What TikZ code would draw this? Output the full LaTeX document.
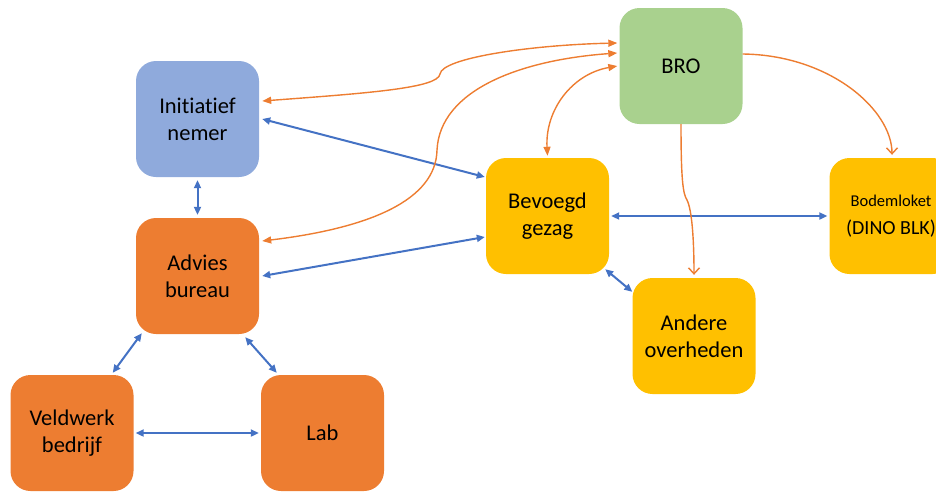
\documentclass[tikz,border=0pt]{standalone}
\usepackage{fontspec}
\setmainfont{Carlito}[Ligatures={NoCommon,NoContextual}]
\usetikzlibrary{arrows.meta,calc}
\definecolor{boxblue}{HTML}{8FAADC}
\definecolor{boxorange}{HTML}{ED7D31}
\definecolor{boxyellow}{HTML}{FFC000}
\definecolor{boxgreen}{HTML}{A9D18E}
\definecolor{lineblue}{HTML}{4472C4}
\definecolor{lineorange}{HTML}{ED7D31}
\begin{document}
\begin{tikzpicture}[x=1pt,y=-1pt,
  box/.style={rectangle,rounded corners=20pt,minimum width=123pt,minimum height=116pt,
    inner sep=0pt,align=center,text=black,font=\fontsize{22.5}{27}\selectfont},
  bluearr/.style={draw=lineblue,line width=2pt,
    {Triangle[length=8pt,width=7pt]}-{Triangle[length=8pt,width=7pt]}},
  orangearr/.style={draw=lineorange,line width=1.4pt,
    {Triangle[length=9pt,width=7pt]}-{Triangle[length=9pt,width=7pt]}},
  orangeone/.style={draw=lineorange,line width=1.4pt,
    -{Straight Barb[length=6pt,width=11pt,line width=1.4pt]}}
]
\useasboundingbox (0,0) rectangle (936,491);
\clip (0,0) rectangle (936,491);

\node[box,fill=boxgreen]  (bro) at (681,66)    {BRO};
\node[box,fill=boxblue]   (ini) at (197.5,119) {Initiatief\\nemer};
\node[box,fill=boxorange] (adv) at (197.5,276) {Advies\\bureau};
\node[box,fill=boxorange] (veld) at (72,433)   {Veldwerk\\bedrijf};
\node[box,fill=boxorange] (lab) at (322.5,433) {Lab};
\node[box,fill=boxyellow] (bev) at (547.5,216) {Bevoegd\\gezag};
\node[box,fill=boxyellow] (bod) at (891,216)   {{\fontsize{16.5}{20}\selectfont Bodemloket}\\[1pt]{\fontsize{20}{24}\selectfont (DINO BLK)}};
\node[box,fill=boxyellow] (and) at (694,336)   {Andere\\overheden};

% blue connectors
\draw[bluearr] ($(ini.east)+(3,0)$) -- ($(bev.west)+(-1,-39)$);
\draw[bluearr] ($(ini.south)+(0,3)$) -- ($(adv.north)+(0,-3)$);
\draw[bluearr] ($(adv.east)+(3,0)$) -- ($(bev.west)+(-1,21)$);
\draw[bluearr] ($(bev.east)+(2,0)$) -- ($(bod.west)+(-2,0)$);
\draw[bluearr] ($(bev.south east)+(-4,-5)$) -- ($(and.north west)+(0,14)$);
\draw[bluearr] ($(adv.south west)+(6,-1)$) -- ($(veld.north east)+(-21,-2)$);
\draw[bluearr] ($(adv.south east)+(-14,3)$) -- ($(lab.north west)+(16,-2)$);
\draw[bluearr] ($(veld.east)+(2,0)$) -- ($(lab.west)+(-2,0)$);

% orange connectors
\draw[orangearr] ($(ini.east)+(3,-18)$)
  .. controls (370,93) and (438,88) .. (440,74)
  .. controls (442,58) and (530,45) .. ($(bro.west)+(-2,-23)$);
\draw[orangearr] ($(adv.east)+(3,-35)$)
  .. controls (370,228) and (436,200) .. (437,150)
  .. controls (440,90) and (520,60) .. ($(bro.west)+(-2,-13)$);
\draw[orangearr] ($(bev.north)+(0,-2)$)
  .. controls (545,110) and (572,74) .. ($(bro.west)+(-2,0)$);
\draw[orangeone] ($(bro.east)+(0,-12)$)
  .. controls (830,55) and (892,110) .. ($(bod.north)+(1,-3)$);
\draw[orangeone] (bro.south)
  .. controls (681,180) and (683,194) .. (687,200)
  .. controls (692,210) and (694,240) .. ($(and.north)+(0,-3)$);
\end{tikzpicture}
\end{document}
